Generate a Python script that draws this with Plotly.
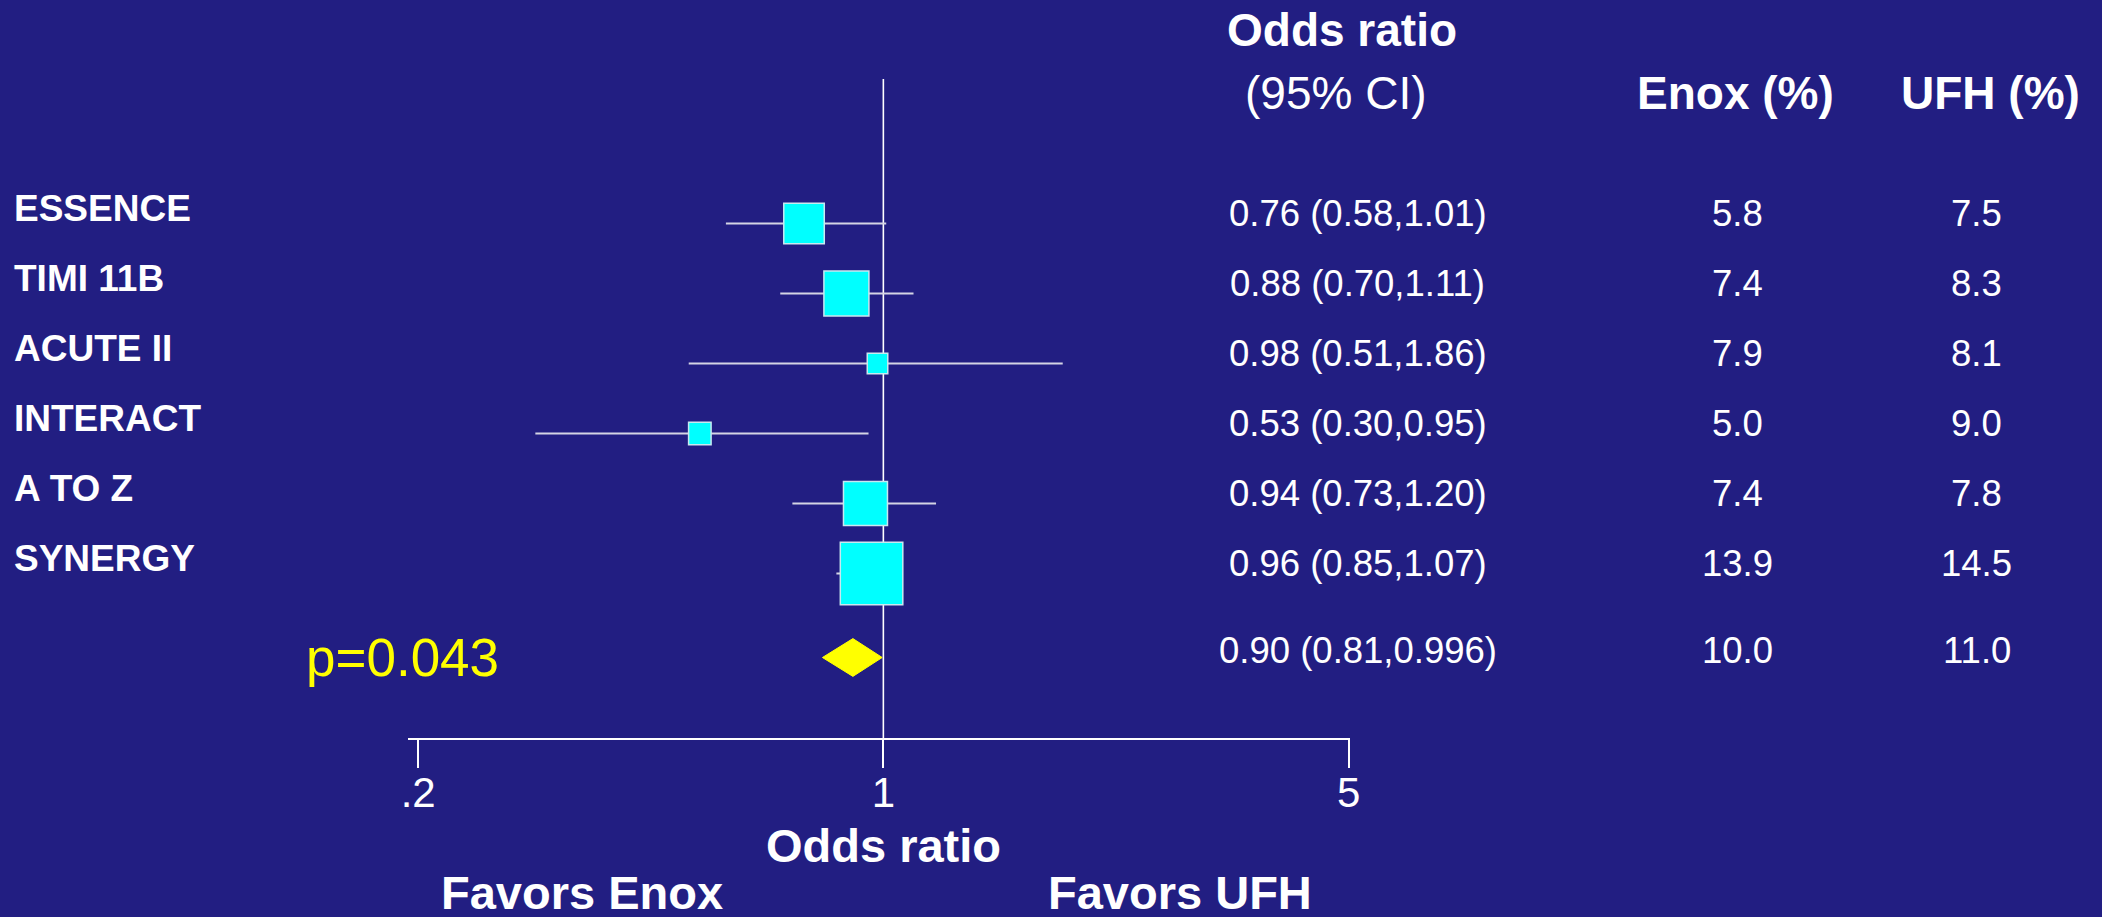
import plotly.graph_objects as go

# ---------------- data ----------------
trials = ["ESSENCE", "TIMI 11B", "ACUTE II", "INTERACT", "A TO Z", "SYNERGY"]
odds_ratio = [0.76, 0.88, 0.98, 0.53, 0.94, 0.96]
ci_low = [0.58, 0.70, 0.51, 0.30, 0.73, 0.85]
ci_high = [1.01, 1.11, 1.86, 0.95, 1.20, 1.07]
enox_pct = [5.8, 7.4, 7.9, 5.0, 7.4, 13.9]
ufh_pct = [7.5, 8.3, 8.1, 9.0, 7.8, 14.5]

pooled_or = 0.90
pooled_low = 0.81
pooled_high = 0.996
pooled_enox = 10.0
pooled_ufh = 11.0
p_value_text = "p=0.043"

tick_vals = [0.2, 1, 5]
tick_text = [".2", "1", "5"]

# ---------------- styles ----------------
W, H = 2102, 917
BG = "#221E82"
WHITE = "#FFFFFF"
CYAN = "#00FFFF"
YELLOW = "#FFFF00"
CI_COLOR = "#D4D4E4"
FONT = "Liberation Sans, Arial, sans-serif"
box_sizes = [40.5, 45, 20.5, 22.5, 44, 62.5]

rows = list(range(len(trials)))
pooled_row = len(trials) + 0.2
ci_text = [f"{o:.2f} ({l:.2f},{h:.2f})" for o, l, h in zip(odds_ratio, ci_low, ci_high)]
pooled_ci_text = f"{pooled_or:.2f} ({pooled_low:.2f},{pooled_high:.3f})"

def px(xp):
    return xp / W

def py(yp):
    return 1 - yp / H

fig = go.Figure()

# reference line at OR = 1
fig.add_trace(go.Scatter(
    x=[1, 1], y=[-2.064, 7.35], mode="lines",
    line=dict(color=WHITE, width=1.6), hoverinfo="skip", showlegend=False,
    cliponaxis=False,
))

# trial boxes with CI whiskers
fig.add_trace(go.Scatter(
    x=odds_ratio, y=rows, mode="markers",
    marker=dict(symbol="square", size=box_sizes, color=CYAN, opacity=1,
                line=dict(color="#C8E8F0", width=1.5)),
    error_x=dict(type="data", symmetric=False,
                 array=[h - o for o, h in zip(odds_ratio, ci_high)],
                 arrayminus=[o - l for o, l in zip(odds_ratio, ci_low)],
                 color=CI_COLOR, thickness=2, width=0),
    showlegend=False, cliponaxis=False,
))

# pooled diamond
dh = 0.27
fig.add_trace(go.Scatter(
    x=[pooled_low, pooled_or, pooled_high, pooled_or, pooled_low],
    y=[pooled_row, pooled_row - dh, pooled_row, pooled_row + dh, pooled_row],
    mode="lines", fill="toself", fillcolor=YELLOW,
    line=dict(color=YELLOW, width=1), showlegend=False, cliponaxis=False,
))

ann = []
# trial labels
for r, t in zip(rows, trials):
    ann.append(dict(x=px(5), y=r, xref="paper", yref="y", text=f"<b>{t}</b>",
                    xanchor="left", yanchor="middle", yshift=15, showarrow=False,
                    font=dict(family=FONT, size=37, color=WHITE)))
# table columns
all_rows = rows + [pooled_row]
ci_all = ci_text + [pooled_ci_text]
enox_all = enox_pct + [pooled_enox]
ufh_all = ufh_pct + [pooled_ufh]
for i, (r, c, e, u) in enumerate(zip(all_rows, ci_all, enox_all, ufh_all)):
    shift = 10 if i < len(trials) else 7
    for xx, tx in ((1362, c), (1745, f"{e:.1f}"), (1986, f"{u:.1f}")):
        ann.append(dict(x=px(xx), y=r, xref="paper", yref="y", text=tx,
                        xanchor="center", yanchor="middle", yshift=shift, showarrow=False,
                        font=dict(family=FONT, size=36.5, color=WHITE)))

# headers
hdr = [
    dict(x=px(1346), y=py(30), text="<b>Odds ratio</b>", font=dict(size=46)),
    dict(x=px(1339), y=py(93), text="(95% CI)", font=dict(size=46)),
    dict(x=px(1743), y=py(93), text="<b>Enox (%)</b>", font=dict(size=46)),
    dict(x=px(2000), y=py(93), text="<b>UFH (%)</b>", font=dict(size=46)),
    dict(x=px(884), y=py(845), text="<b>Odds ratio</b>", font=dict(size=47)),
    dict(x=px(580), y=py(892), text="<b>Favors Enox</b>", font=dict(size=47)),
    dict(x=px(1183), y=py(892), text="<b>Favors UFH</b>", font=dict(size=47)),
]
for a in hdr:
    a.update(xref="paper", yref="paper", xanchor="center", yanchor="middle", showarrow=False)
    a["font"].update(family=FONT, color=WHITE)
ann += hdr

ann.append(dict(x=px(399), y=pooled_row, xref="paper", yref="y", text=p_value_text,
                xanchor="center", yanchor="middle", showarrow=False,
                font=dict(family=FONT, size=53, color=YELLOW)))

x0p, x1p = 404, 1354
ppd = 671.0
x_one = 883.5
y_axis_px = 738

fig.update_layout(
    width=W, height=H,
    margin=dict(l=0, r=0, t=0, b=0),
    paper_bgcolor=BG, plot_bgcolor=BG,
    annotations=ann,
    xaxis=dict(
        type="log", domain=[x0p / W, x1p / W],
        range=[(x0p - x_one) / ppd, (x1p - x_one) / ppd],
        showgrid=False, zeroline=False, showline=True, linecolor=WHITE, linewidth=2,
        ticks="outside", ticklen=28, tickwidth=2, tickcolor=WHITE,
        tickvals=tick_vals, ticktext=tick_text, ticklabelstandoff=-11,
        tickfont=dict(family=FONT, size=42, color=WHITE),
    ),
    yaxis=dict(
        domain=[1 - y_axis_px / H, 1],
        range=[(y_axis_px - 223.5) / 70, -223.5 / 70],
        showgrid=False, zeroline=False, showline=False, showticklabels=False, ticks="",
    ),
    font=dict(family=FONT, color=WHITE),
)

fig.write_html(
    "out.html",
    config={"displayModeBar": False},
    post_script="document.body.style.margin='0';document.body.style.overflow='hidden';"
                "document.body.style.background='#221E82';",
)
